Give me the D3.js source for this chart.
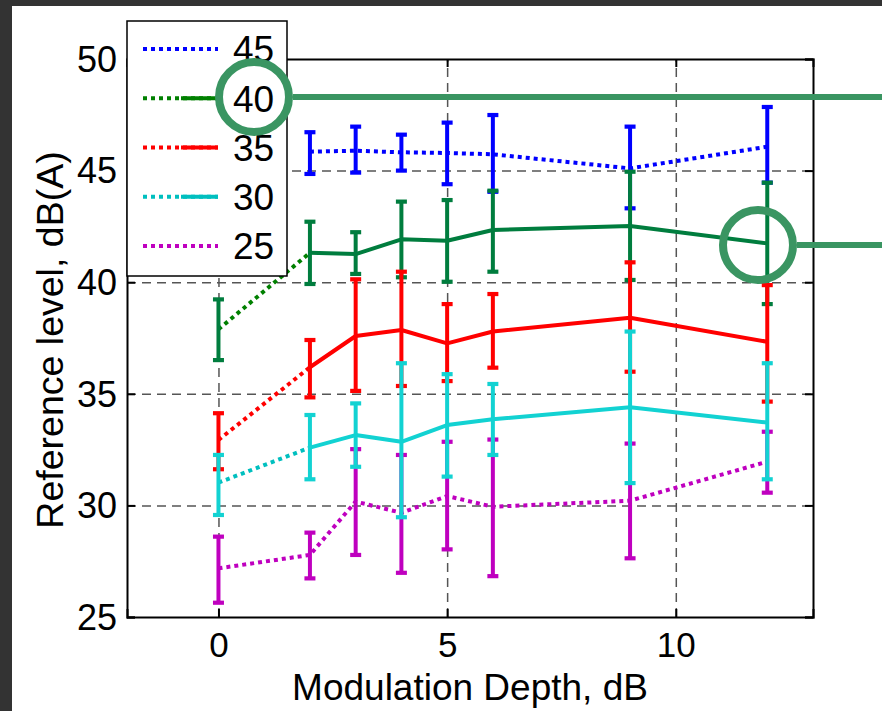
<!DOCTYPE html>
<html>
<head>
<meta charset="utf-8">
<script src="https://cdn.jsdelivr.net/npm/d3@7"></script>
<style>
  html, body { margin: 0; padding: 0; background: #333333; }
  svg { display: block; }
  text { font-family: "Liberation Sans", Arial, sans-serif; fill: #000; }
</style>
</head>
<body>
<svg id="chart" width="882" height="711"></svg>
<script>
// ---- data ----
const depths = [0, 2, 3, 4, 5, 6, 9, 12];
const levelLabels = ["45", "40", "35", "30", "25"];
const xTicks = [0, 5, 10];
const yTicks = [25, 30, 35, 40, 45, 50];

const mean45 = [null, 45.85, 45.89, 45.82, 45.79, 45.73, 45.10, 46.07];
const up45   = [null, 46.72, 46.97, 46.61, 47.15, 47.49, 46.97, 47.85];
const lo45   = [null, 44.85, 44.91, 45.00, 44.39, 44.05, 43.31, 44.46];

const mean40 = [37.89, 41.32, 41.26, 41.92, 41.86, 42.34, 42.52, 41.74];
const up40   = [39.23, 42.71, 42.24, 43.61, 43.68, 44.10, 44.95, 44.46];
const lo40   = [36.51, 39.92, 40.37, 40.22, 40.02, 40.47, 40.10, 39.02];

const mean35 = [32.93, 36.19, 37.59, 37.86, 37.26, 37.79, 38.41, 37.33];
const up35   = [34.13, 37.41, 40.13, 40.47, 39.02, 39.47, 40.89, 39.87];
const lo35   = [31.62, 34.84, 35.13, 35.35, 35.57, 36.17, 35.99, 34.65];

const mean30 = [31.02, 32.59, 33.15, 32.85, 33.60, 33.86, 34.40, 33.71];
const up30   = [32.26, 34.05, 34.57, 36.37, 35.88, 35.44, 37.79, 36.37];
const lo30   = [29.57, 31.17, 31.73, 29.47, 31.29, 32.26, 31.00, 31.17];

const mean25 = [27.18, 27.78, 30.17, 29.67, 30.42, 29.94, 30.21, 31.96];
const up25   = [28.60, 28.78, 32.52, 32.26, 32.85, 32.95, 32.77, 33.30];
const lo25   = [25.64, 26.73, 27.78, 26.98, 28.03, 26.83, 27.63, 30.57];

// series definitions (drawing order: later on top)
const series = [
  { key: "45", mean: mean45, up: up45, lo: lo45, dotColor: "#0000ff", solidColor: "#0000ff", solidFrom: null },
  { key: "40", mean: mean40, up: up40, lo: lo40, dotColor: "#008000", solidColor: "#007d3e", solidFrom: 2 },
  { key: "35", mean: mean35, up: up35, lo: lo35, dotColor: "#ff0000", solidColor: "#ff0000", solidFrom: 2 },
  { key: "25", mean: mean25, up: up25, lo: lo25, dotColor: "#bf00bf", solidColor: "#bf00bf", solidFrom: null },
  { key: "30", mean: mean30, up: up30, lo: lo30, dotColor: "#00bfbf", solidColor: "#12d2d2", solidFrom: 2 }
];
const legendOrder = ["45", "40", "35", "30", "25"];

// ---- layout ----
const svg = d3.select("#chart");
const W = 882, H = 711;
const plot = { left: 127, top: 59, right: 813, bottom: 617 };
const FONT = '"Liberation Sans", Arial, sans-serif';

svg.append("rect").attr("x", 0).attr("y", 0).attr("width", W).attr("height", H).attr("fill", "#333333");
svg.append("rect").attr("x", 12).attr("y", 6).attr("width", W - 12).attr("height", H - 6).attr("fill", "#ffffff");

const x = d3.scaleLinear().domain([-2, 13]).range([plot.left, plot.right]);
const y = d3.scaleLinear().domain([25, 50]).range([plot.bottom, plot.top]);

const pw = plot.right - plot.left, ph = plot.bottom - plot.top;

// grid
const gridX = svg.append("g").attr("transform", `translate(0,${plot.bottom})`)
  .call(d3.axisBottom(x).tickValues(xTicks).tickSize(-ph).tickFormat(""));
gridX.select(".domain").remove();
gridX.selectAll("line").attr("stroke", "#555").attr("stroke-width", 1.5).attr("stroke-dasharray", "9,6");

const gridY = svg.append("g").attr("transform", `translate(${plot.left},0)`)
  .call(d3.axisLeft(y).tickValues(yTicks.filter(v => v > 25 && v < 50)).tickSize(-pw).tickFormat(""));
gridY.select(".domain").remove();
gridY.selectAll("line").attr("stroke", "#555").attr("stroke-width", 1.5).attr("stroke-dasharray", "9,6");

// data
const dataG = svg.append("g");
const lineGen = d3.line().defined(d => d.m != null).x(d => x(d.x)).y(d => y(d.m));
const capHalf = 5.5;
const LW = 4;

series.forEach(s => {
  const pts = depths.map((d, i) => ({ x: d, m: s.mean[i], u: s.up[i], l: s.lo[i] }));
  const g = dataG.append("g");
  if (s.solidFrom === null) {
    g.append("path").attr("d", lineGen(pts)).attr("fill", "none")
      .attr("stroke", s.dotColor).attr("stroke-width", LW).attr("stroke-dasharray", "4,4");
  } else {
    const dotPts = pts.filter(p => p.x <= s.solidFrom);
    const solPts = pts.filter(p => p.x >= s.solidFrom);
    g.append("path").attr("d", lineGen(dotPts)).attr("fill", "none")
      .attr("stroke", s.dotColor).attr("stroke-width", LW).attr("stroke-dasharray", "4,4");
    g.append("path").attr("d", lineGen(solPts)).attr("fill", "none")
      .attr("stroke", s.solidColor).attr("stroke-width", LW).attr("stroke-linejoin", "round");
  }
  const barColor = s.solidFrom === null ? s.dotColor : s.solidColor;
  const bars = pts.filter(p => p.m != null);
  g.selectAll(".eb").data(bars).enter().append("line")
    .attr("x1", d => x(d.x)).attr("x2", d => x(d.x))
    .attr("y1", d => y(d.u)).attr("y2", d => y(d.l))
    .attr("stroke", barColor).attr("stroke-width", LW);
  ["u", "l"].forEach(k => {
    g.selectAll(".cap" + k).data(bars).enter().append("line")
      .attr("x1", d => x(d.x) - capHalf).attr("x2", d => x(d.x) + capHalf)
      .attr("y1", d => y(d[k])).attr("y2", d => y(d[k]))
      .attr("stroke", barColor).attr("stroke-width", 4.2);
  });
});

// axes box + ticks
const axL = svg.append("g").attr("transform", `translate(${plot.left},0)`)
  .call(d3.axisLeft(y).tickValues(yTicks).tickSize(-8).tickPadding(10));
const axR = svg.append("g").attr("transform", `translate(${plot.right},0)`)
  .call(d3.axisRight(y).tickValues(yTicks).tickSize(-8).tickFormat(""));
const axB = svg.append("g").attr("transform", `translate(0,${plot.bottom})`)
  .call(d3.axisBottom(x).tickValues(xTicks).tickSize(-8).tickPadding(15));
const axT = svg.append("g").attr("transform", `translate(0,${plot.top})`)
  .call(d3.axisTop(x).tickValues(xTicks).tickSize(-8).tickFormat(""));
[axL, axR, axB, axT].forEach(a => {
  a.attr("font-size", null).attr("font-family", null);
  a.select(".domain").attr("stroke", "#000").attr("stroke-width", 2);
  a.selectAll(".tick line").attr("stroke", "#000").attr("stroke-width", 2);
  a.selectAll("text").style("font-family", FONT).style("font-size", "36px").attr("fill", "#000");
});
axL.selectAll("text").attr("dy", "0.34em");
axB.selectAll("text").style("font-size", "35px").attr("dy", "0.71em");

// axis labels
svg.append("text").attr("x", (plot.left + plot.right) / 2).attr("y", 700)
  .attr("text-anchor", "middle").style("font-size", "37px").text("Modulation Depth, dB");
svg.append("text").attr("transform", "translate(63,340) rotate(-90)")
  .attr("text-anchor", "middle").style("font-size", "37.5px").text("Reference level, dB(A)");

// legend
const leg = svg.append("g");
leg.append("rect").attr("x", 127).attr("y", 21).attr("width", 160).attr("height", 255)
  .attr("fill", "#fff").attr("stroke", "#000").attr("stroke-width", 1.5);
legendOrder.forEach((k, i) => {
  const s = series.find(d => d.key === k);
  const ly = 49 + i * 49.25;
  leg.append("line").attr("x1", 143).attr("x2", 218).attr("y1", ly).attr("y2", ly)
    .attr("stroke", s.dotColor).attr("stroke-width", LW).attr("stroke-dasharray", "4,4");
  if (s.solidFrom !== null) {
    leg.append("line").attr("x1", 181).attr("x2", 218).attr("y1", ly).attr("y2", ly)
      .attr("stroke", s.dotColor).attr("stroke-width", LW);
  }
  leg.append("text").attr("x", 233).attr("y", ly).attr("dy", "0.36em")
    .style("font-size", "37px").text(levelLabels[i]);
});

// annotation circles
const ann = svg.append("g");
const annColor = "#3a9562";
[{ cx: 254, cy: 97 }, { cx: 758, cy: 245 }].forEach(c => {
  ann.append("circle").attr("cx", c.cx).attr("cy", c.cy).attr("r", 35)
    .attr("fill", "none").attr("stroke", annColor).attr("stroke-width", 8);
  ann.append("line").attr("x1", c.cx + 39).attr("x2", W).attr("y1", c.cy).attr("y2", c.cy)
    .attr("stroke", annColor).attr("stroke-width", 6);
});
</script>
</body>
</html>
